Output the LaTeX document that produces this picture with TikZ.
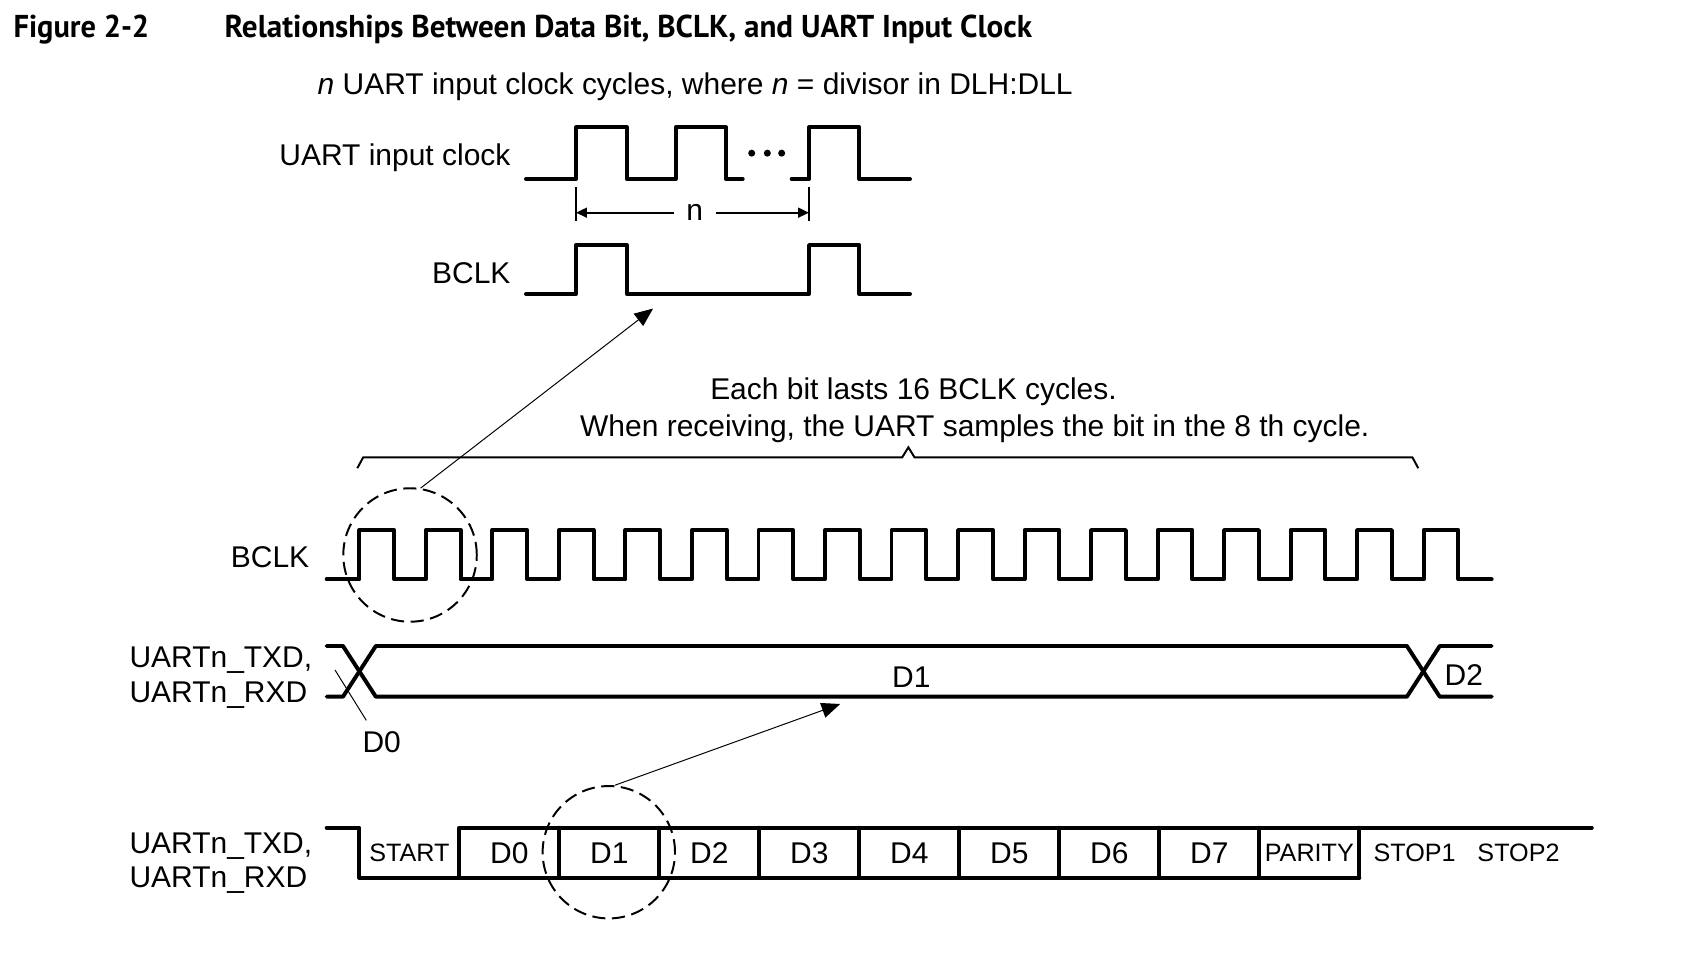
\documentclass[tikz,border=0pt]{standalone}
\usepackage{fontspec}
\setmainfont{Liberation Sans}
\newfontfamily\figheadfont{PT Sans}
\usepackage{graphicx}
\usepackage{tikz}
\usetikzlibrary{positioning}
\usetikzlibrary{arrows.meta}

\begin{document}
\begin{tikzpicture}[
            x=0.5pt, y=-0.5pt,
            signal/.style={line width=1.8pt, line cap=round, line join=round},
            labeltext/.style={inner sep=0pt, font=\fontsize{13.7}{16}\selectfont},
            smalltext/.style={inner sep=0pt, font=\fontsize{11.5}{14}\selectfont},
            ringnode/.style={circle, draw=black, line width=0.9pt, dash pattern=on 6pt off 3pt, inner sep=0pt},
            pointer/.style={line width=0.45pt, -{Triangle[length=8.5pt,width=7pt]}},
            dimline/.style={line width=0.9pt, -{Triangle[length=5pt,width=4.5pt]}},
            node distance=20mm,
        ]
            \useasboundingbox (0,0) rectangle (1560.3,870.2);
            % Title
            \node[anchor=base west, inner sep=0pt] (fignum) at (12,34) {\resizebox{62pt}{10.3pt}{\figheadfont\bfseries Figure 2-2}};
            \node[anchor=base west, inner sep=0pt] (figtitle) at (205,34) {\resizebox{369pt}{10.3pt}{\figheadfont\bfseries Relationships Between Data Bit, BCLK, and UART Input Clock}};
            \node[labeltext, anchor=base west] (divnote) at (290,86) {\textit{n} UART input clock cycles, where \textit{n} = divisor in DLH:DLL};

            % Nodes
            \node[labeltext, anchor=base east] (clkname) at (467,151) {UART input clock};
            \node[labeltext, anchor=base east] (topbclk) at (467,259) {BCLK};
            \node[labeltext, inner xsep=5.5pt] (nmark) at (635,194.4) {n};
            \coordinate (nstart) at (526.5,194.4);
            \coordinate (nend) at (739.5,194.4);
            \coordinate (bclkhint) at (597,282);
            \node[labeltext, anchor=base] (bitnote) at (835,365) {Each bit lasts 16 BCLK cycles.};
            \node[labeltext, anchor=base] (samplenote) at (891,399) {When receiving, the UART samples the bit in the 8 th cycle.};
            \node[labeltext, anchor=base east] (lowbclk) at (283,518.6) {BCLK};
            \node[ringnode, minimum size=61pt] (topring) at (374.8,507.3) {};
            \node[labeltext, anchor=base west] (midtxd) at (118,610) {UARTn\_TXD,};
            \node[labeltext, anchor=base west] (midrxd) at (118,642) {UARTn\_RXD};
            \node[labeltext, anchor=base] (wideone) at (833,628) {D1};
            \node[labeltext, anchor=base] (widetwo) at (1338,627) {D2};
            \node[labeltext, anchor=base, inner sep=5pt] (dzero) at (348.9,688) {D0};
            \coordinate (crossmark) at (306.2,612.4);
            \coordinate (dataonehint) at (768,643.5);
            \node[labeltext, anchor=base west] (lowtxd) at (118,780) {UARTn\_TXD,};
            \node[labeltext, anchor=base west] (lowrxd) at (118,811) {UARTn\_RXD};
            \node[ringnode, minimum size=60.5pt] (lowring) at (556.5,779) {};
            \node[smalltext, anchor=base] (startbit) at (374.2,787.6) {START};
            \foreach \d [count=\i] in {0,...,7}
                \node[labeltext, anchor=base] (bit\d) at ({374.2+91.4*\i},789.2) {D\d};
            \node[smalltext, anchor=base] (paritybit) at (1196.8,787.6) {PARITY};
            \node[smalltext, anchor=base] (stopone) at (1293,787.6) {STOP1};
            \node[smalltext, anchor=base] (stoptwo) at (1388,787.6) {STOP2};

            % Waveforms
            \draw[signal] (480.8,163.6) -- (526.5,163.6) |- (572.8,116.4) |- (617.6,163.6) |- (663.6,116.4) |- (678.9,163.6);
            \draw[signal] (723.6,163.6) -- (739.5,163.6) |- (785.5,116.4) |- (831.8,163.6);
            \foreach \dx in {687.1,701.4,714.5}
                \fill (\dx,140) circle (1.6pt);
            \draw[line width=0.9pt] (526.5,171) -- (526.5,201.7) (739.5,171) -- (739.5,201.7);
            \draw[signal] (480.8,268.7) -- (526.5,268.7) |- (572.8,224) |- (739.5,268.7) |- (785.5,224) |- (831.8,268.7);
            \draw[line width=0.9pt] (326.6,428) -- (332,418) -- (824.7,418) -- (830.3,408.9) -- (835.9,418) -- (1291,418) -- (1296.4,428);
            \draw[signal] (298.6,529.5) \foreach \k in {0,...,16} { -- ({328.5+60.8*\k},529.5) -- ++(0,-45) -- ++(31.8,0) -- ++(0,45) } -- (1363.5,529.5);
            \draw[signal] (298.6,590.5) -- (313.5,590.5) -- (343.5,636.8) -- (1286,636.8) -- (1316,590.5) -- (1363.5,590.5);
            \draw[signal] (298.6,636.8) -- (313.5,636.8) -- (343.5,590.5) -- (1286,590.5) -- (1316,636.8) -- (1363.5,636.8);
            \draw[signal] (298.6,756.6) -- (328.5,756.6) -- (328.5,802.2) -- (1242.5,802.2);
            \draw[signal] (419.9,802.2) -- (419.9,756.6) -- (1455,756.6);
            \foreach \k in {2,...,10}
                \draw[signal] ({328.5+91.4*\k},756.6) -- ++(0,45.6);

            % Lines
            \draw[dimline] (nmark) -- (nstart);
            \draw[dimline] (nmark) -- (nend);
            \draw[pointer] (topring.81) -- (bclkhint);
            \draw[line width=0.45pt] (crossmark) -- (dzero.125);
            \draw[pointer] (lowring.85) -- (dataonehint);
        \end{tikzpicture}
\end{document}
